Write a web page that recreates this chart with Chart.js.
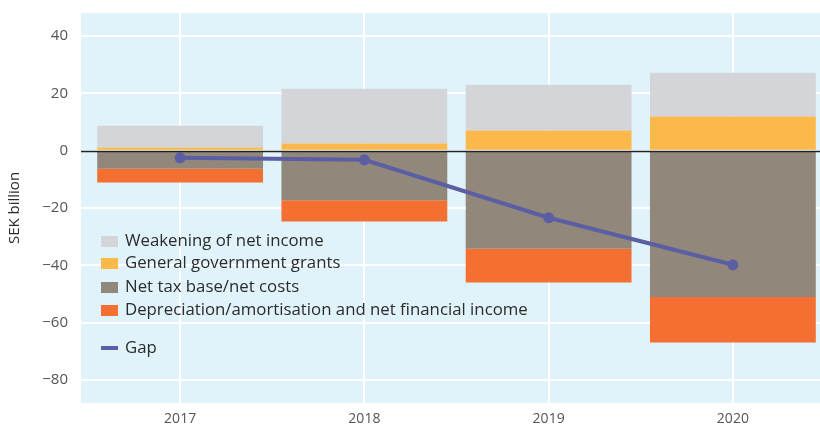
<!DOCTYPE html>
<html>
<head>
<meta charset="utf-8">
<script src="https://cdn.jsdelivr.net/npm/chart.js@4/dist/chart.umd.min.js"></script>
<style>
  html, body { margin: 0; padding: 0; background: #fff; overflow: hidden; width: 820px; height: 430px; }
  #wrap { width: 825px; height: 430px; }
</style>
</head>
<body>
<div id="wrap"><canvas id="chart"></canvas></div>
<script>
const years = ['2017', '2018', '2019', '2020'];
const weakening = [7.6, 19.1, 16.0, 15.3];
const grants = [1.1, 2.5, 7.0, 11.9];
const netTaxBase = [-6.3, -17.3, -34.2, -51.0];
const depreciation = [-4.8, -7.4, -11.8, -15.9];
const gap = [-2.5, -3.2, -23.4, -39.8];
const yTicks = [40, 20, 0, -20, -40, -60, -80];

const colors = {
  weakening: '#d4d5d8',
  grants: '#fbb84b',
  netTaxBase: '#91877a',
  depreciation: '#f36f32',
  gap: '#5c5ea3',
};

const fontFamily = '"Open Sans", Lato, sans-serif';
const edge = 7; // plot background runs a little left of the first category

const legendItems = [
  { label: 'Weakening of net income', color: colors.weakening, y: 241 },
  { label: 'General government grants', color: colors.grants, y: 263 },
  { label: 'Net tax base/net costs', color: colors.netTaxBase, y: 287 },
  { label: 'Depreciation/amortisation and net financial income', color: colors.depreciation, y: 310 },
  { label: 'Gap', color: colors.gap, y: 348, line: true },
];

const backdrop = {
  id: 'backdrop',
  beforeDraw(chart) {
    const { ctx, chartArea: a } = chart;
    ctx.save();
    ctx.fillStyle = '#e0f3fa';
    ctx.fillRect(a.left - edge, a.top, a.right - a.left + edge, a.bottom - a.top);
    ctx.restore();
  },
};

const zeroLine = {
  id: 'zeroLine',
  afterDatasetsDraw(chart) {
    const { ctx, chartArea: a } = chart;
    const y = Math.round(chart.scales.y.getPixelForValue(0)) + 0.5;
    ctx.save();
    ctx.strokeStyle = '#222';
    ctx.lineWidth = 1.5;
    ctx.beginPath();
    ctx.moveTo(a.left - edge, y);
    ctx.lineTo(a.right, y);
    ctx.stroke();
    ctx.restore();
  },
};

const insideLegend = {
  id: 'insideLegend',
  afterDraw(chart) {
    const { ctx } = chart;
    ctx.save();
    ctx.font = '16.8px ' + fontFamily;
    ctx.textBaseline = 'middle';
    legendItems.forEach((item) => {
      ctx.fillStyle = item.color;
      if (item.line) {
        ctx.fillRect(101, item.y - 2, 17, 4);
      } else {
        ctx.fillRect(101, item.y - 5, 17, 11);
      }
      ctx.fillStyle = '#2b2b2b';
      ctx.fillText(item.label, 125, item.y);
    });
    ctx.restore();
  },
};

new Chart(document.getElementById('chart'), {
  type: 'bar',
  data: {
    labels: years,
    datasets: [
      {
        type: 'line',
        label: 'Gap',
        data: gap,
        stack: 'gap',
        borderColor: colors.gap,
        backgroundColor: colors.gap,
        borderWidth: 4,
        pointRadius: 3.5,
        pointHoverRadius: 3.5,
        tension: 0,
        order: 0,
      },
      { label: 'General government grants', data: grants, backgroundColor: colors.grants, stack: 'bars', order: 1 },
      { label: 'Weakening of net income', data: weakening, backgroundColor: colors.weakening, stack: 'bars', order: 1 },
      { label: 'Net tax base/net costs', data: netTaxBase, backgroundColor: colors.netTaxBase, stack: 'bars', order: 1 },
      { label: 'Depreciation/amortisation and net financial income', data: depreciation, backgroundColor: colors.depreciation, stack: 'bars', order: 1 },
    ],
  },
  options: {
    responsive: true,
    maintainAspectRatio: false,
    animation: false,
    layout: { autoPadding: false, padding: { top: 13, right: 0, left: 0, bottom: 0 } },
    datasets: {
      bar: { barPercentage: 0.9, categoryPercentage: 1, borderWidth: 0 },
    },
    plugins: {
      legend: { display: false },
      tooltip: { enabled: false },
    },
    scales: {
      x: {
        stacked: true,
        offset: true,
        grid: { offset: false, color: '#ffffff', lineWidth: 2, drawTicks: false },
        border: { display: false },
        ticks: { color: '#555', font: { family: fontFamily, size: 14 }, padding: 8 },
        afterFit(scale) {
          scale.height = 27;
          scale.paddingLeft = 0;
          scale.paddingRight = 0;
        },
      },
      y: {
        stacked: true,
        min: -88,
        max: 48,
        afterBuildTicks(scale) {
          scale.ticks = yTicks.map((v) => ({ value: v }));
        },
        grid: { color: '#ffffff', lineWidth: 2, drawTicks: true, tickLength: edge, tickColor: '#ffffff' },
        border: { display: false },
        ticks: {
          color: '#555',
          font: { family: fontFamily, size: 15 },
          padding: 13,
          callback: (v) => String(v).replace('-', '\u2212'),
        },
        title: {
          display: true,
          text: 'SEK billion',
          color: '#2b2b2b',
          font: { family: fontFamily, size: 15 },
          padding: { top: 6, bottom: 0 },
        },
        afterFit(scale) {
          scale.width = 81 + edge;
          scale.paddingTop = 0;
          scale.paddingBottom = 0;
        },
      },
    },
  },
  plugins: [backdrop, zeroLine, insideLegend],
});
</script>
</body>
</html>
